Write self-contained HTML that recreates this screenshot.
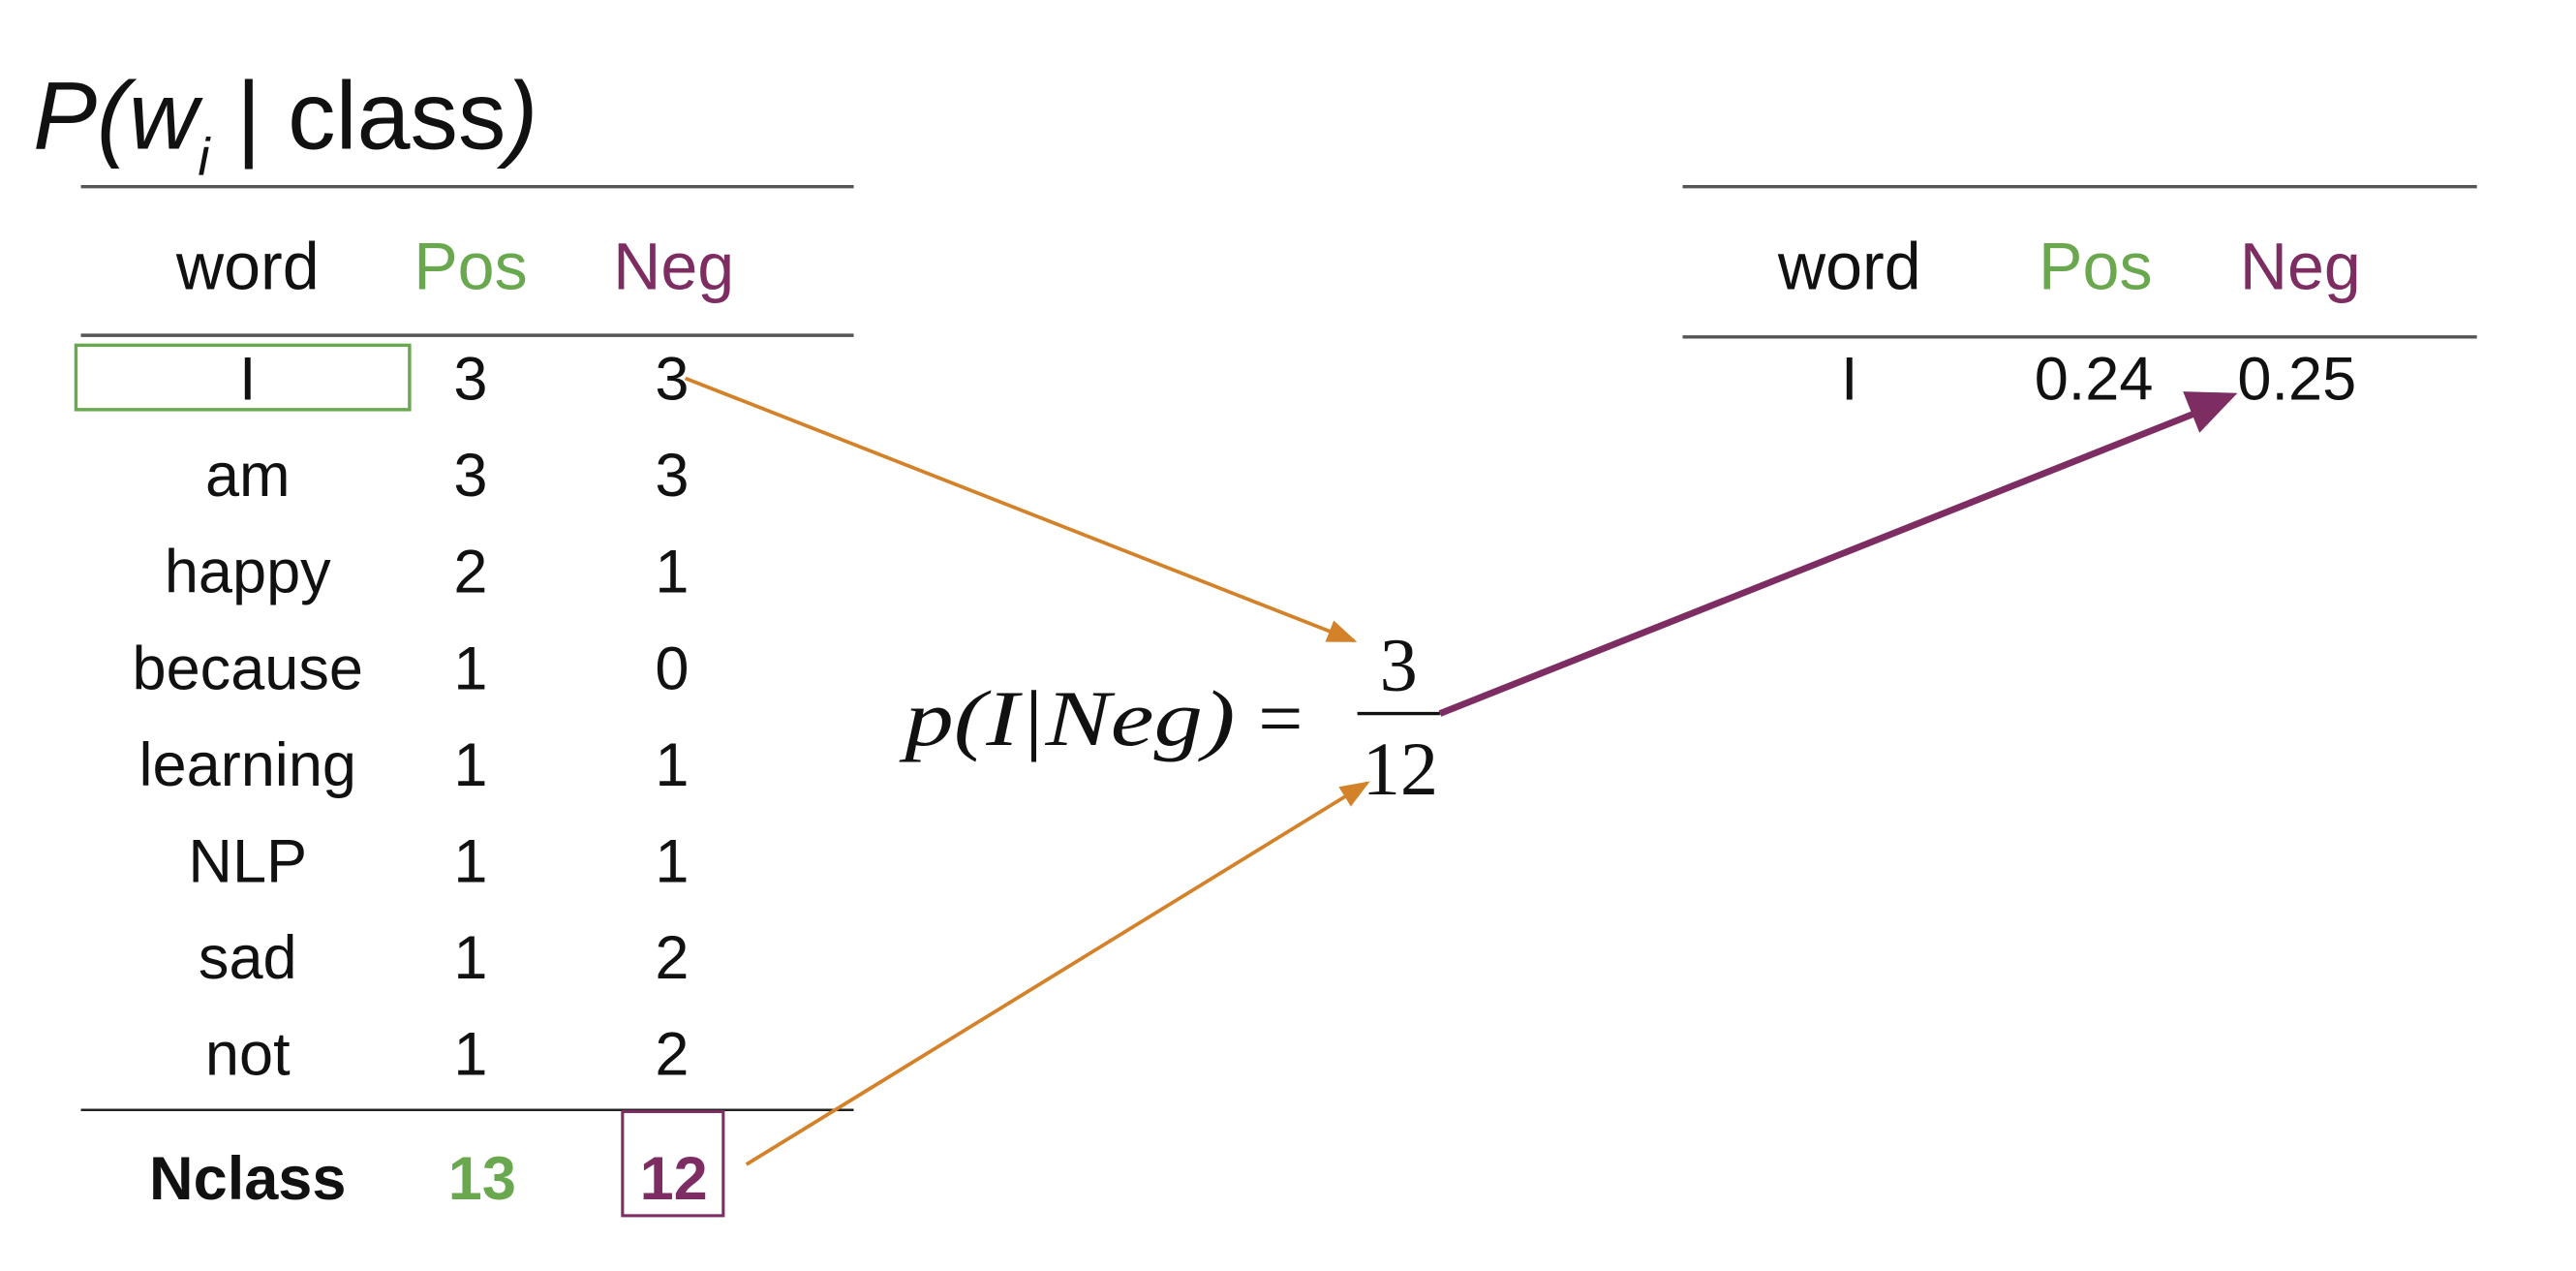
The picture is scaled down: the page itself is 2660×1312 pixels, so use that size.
<!DOCTYPE html>
<html><head><meta charset="utf-8"><style>
html,body{margin:0;padding:0;background:#fff;}
svg{display:block;}
.sans{font-family:"Liberation Sans",sans-serif;}
.serif{font-family:"Liberation Serif",serif;}
</style></head><body>
<svg id="fig" class="sans" width="2660" height="1312" viewBox="0 0 1560 769.5" preserveAspectRatio="none" xmlns="http://www.w3.org/2000/svg">
<defs>
<marker id="ao" markerWidth="18" markerHeight="14" refX="16" refY="7" orient="auto" markerUnits="userSpaceOnUse" viewBox="0 0 18 14"><path d="M0,0 L18,7 L0,14 z" fill="#d4822a"/></marker>
</defs>
<g>
<text x="20" y="90" font-size="58" font-style="italic" fill="#111">P(w<tspan font-size="32" dy="16">i</tspan><tspan dy="-16" font-style="normal"> | class</tspan>)</text>
</g>
<g id="left"></g>
<g id="right"></g>
<g style="font-family:'Liberation Serif',serif">
<text x="548" y="451" font-size="48" font-style="italic" fill="#111" textLength="200" lengthAdjust="spacingAndGlyphs" style="font-family:'Liberation Serif',serif">p(I|Neg)</text>
<text x="762" y="451" font-size="48" fill="#111" style="font-family:'Liberation Serif',serif">=</text>
<text x="847" y="418" text-anchor="middle" font-size="46" fill="#111" style="font-family:'Liberation Serif',serif">3</text>
<line x1="822" y1="432" x2="872" y2="432" stroke="#111" stroke-width="2"/>
<text x="848" y="481" text-anchor="middle" font-size="46" fill="#111" style="font-family:'Liberation Serif',serif">12</text>
</g>
<g>
<line x1="415" y1="229" x2="820" y2="388" stroke="#d4822a" stroke-width="2.2" marker-end="url(#ao)"/>
<line x1="452" y1="705" x2="828" y2="474" stroke="#d4822a" stroke-width="2.2" marker-end="url(#ao)"/>
<line x1="872" y1="432" x2="1335" y2="248" stroke="#7d2d62" stroke-width="4"/>
<path d="M1355,238 L1322,237 L1332,262 z" fill="#7d2d62"/>
</g>
<script>
var words=["I","am","happy","because","learning","NLP","sad","not"];
var posCounts=[3,3,2,1,1,1,1,1];
var negCounts=[3,3,1,0,1,1,2,2];
var totals=["13","12"];
var probWords=["I"];
var probPos=["0.24"];
var probNeg=["0.25"];
var NS="http://www.w3.org/2000/svg";
var GREEN="#6aa84f",PURPLE="#7d2d62";
function mk(parent,tag,attrs,txt){var e=document.createElementNS(NS,tag);for(var k in attrs)e.setAttribute(k,attrs[k]);if(txt!==undefined)e.textContent=txt;parent.appendChild(e);return e;}
var L=document.getElementById('left');
var r;
r=mk(L,'line',{x1:49,y1:113,x2:517,y2:113,stroke:'#555','stroke-width':2});

r=mk(L,'line',{x1:49,y1:203,x2:517,y2:203,stroke:'#555','stroke-width':2});

r=mk(L,'line',{x1:49,y1:672,x2:517,y2:672,stroke:'#222','stroke-width':1.5});

var hdr=[["word",150,"#111"],["Pos",285,GREEN],["Neg",408,PURPLE]];
hdr.forEach(function(h){var t=mk(L,'text',{x:h[1],y:175,'text-anchor':'middle','font-size':40,fill:h[2]},h[0]);

});
var rowY=function(i){return 242+i*58.4;};
words.forEach(function(w,i){
 var y=rowY(i);
 var t=mk(L,'text',{x:150,y:y,'text-anchor':'middle','font-size':37,fill:'#111'},w);
 
 
 t=mk(L,'text',{x:285,y:y,'text-anchor':'middle','font-size':37,fill:'#111'},String(posCounts[i]));
 
 
 t=mk(L,'text',{x:407,y:y,'text-anchor':'middle','font-size':37,fill:'#111'},String(negCounts[i]));
 
 
});
r=mk(L,'rect',{x:46,y:209,width:202,height:39,fill:'none',stroke:GREEN,'stroke-width':2});

var t=mk(L,'text',{x:150,y:726,'text-anchor':'middle','font-size':37,'font-weight':'bold',fill:'#111'},"Nclass");

t=mk(L,'text',{x:292,y:726,'text-anchor':'middle','font-size':37,'font-weight':'bold',fill:GREEN},totals[0]);

t=mk(L,'text',{x:408,y:726,'text-anchor':'middle','font-size':37,'font-weight':'bold',fill:PURPLE},totals[1]);

r=mk(L,'rect',{x:377,y:673,width:61,height:63,fill:'none',stroke:PURPLE,'stroke-width':1.8});

var R=document.getElementById('right');
r=mk(R,'line',{x1:1019,y1:113,x2:1500,y2:113,stroke:'#555','stroke-width':2});

r=mk(R,'line',{x1:1019,y1:204,x2:1500,y2:204,stroke:'#555','stroke-width':2});

var hdr2=[["word",1120,"#111"],["Pos",1269,GREEN],["Neg",1393,PURPLE]];
hdr2.forEach(function(h){var t=mk(R,'text',{x:h[1],y:175,'text-anchor':'middle','font-size':40,fill:h[2]},h[0]);

});
probWords.forEach(function(w,i){
 var y=rowY(i);
 var t=mk(R,'text',{x:1120,y:y,'text-anchor':'middle','font-size':37,fill:'#111'},w);
 
 
 t=mk(R,'text',{x:1268,y:y,'text-anchor':'middle','font-size':37,fill:'#111'},probPos[i]);
 
 
 t=mk(R,'text',{x:1391,y:y,'text-anchor':'middle','font-size':37,fill:'#111'},probNeg[i]);
 
 
});
</script>
</svg>
</body></html>
